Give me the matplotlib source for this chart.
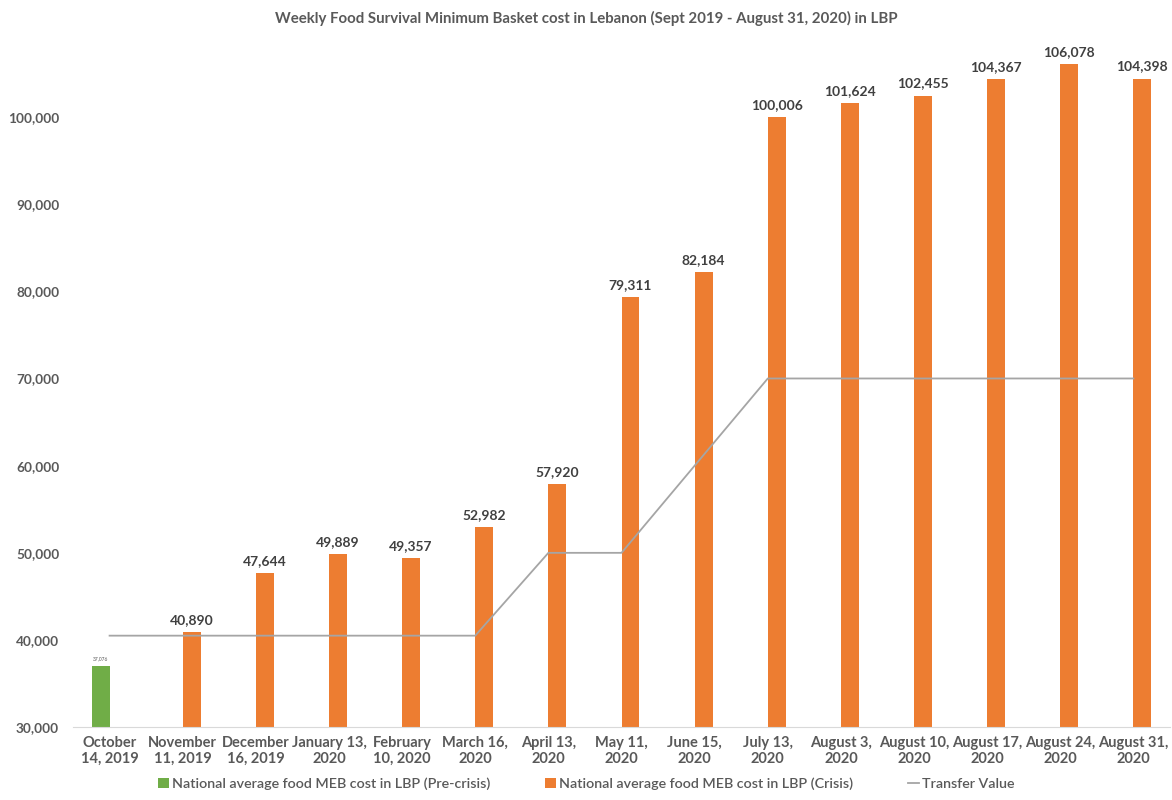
import numpy as np
import matplotlib.pyplot as plt

plt.rcParams['font.family'] = ['Lato', 'DejaVu Sans']

categories = ['October\n14, 2019', 'November\n11, 2019', 'December\n16, 2019',
              'January 13,\n2020', 'February\n10, 2020', 'March 16,\n2020',
              'April 13,\n2020', 'May 11,\n2020', 'June 15,\n2020', 'July 13,\n2020',
              'August 3,\n2020', 'August 10,\n2020', 'August 17,\n2020',
              'August 24,\n2020', 'August 31,\n2020']
pre_crisis = [37076] + [None] * 14
crisis = [None, 40890, 47644, 49889, 49357, 52982, 57920, 79311, 82184,
          100006, 101624, 102455, 104367, 106078, 104398]
transfer = [40500, 40500, 40500, 40500, 40500, 40500, 50000, 50000, 60000,
            70000, 70000, 70000, 70000, 70000, 70000]

green = '#70AD47'
orange = '#ED7D31'
grey_line = '#A5A5A5'
text_col = '#595959'

fig = plt.figure(figsize=(11.72, 8), dpi=100)
ax = fig.add_axes([0.0623, 0.091, 0.936, 0.85])

x = np.arange(len(categories))
w = 0.245

# pre-crisis bar (left of category centre)
px = [i for i, v in enumerate(pre_crisis) if v is not None]
pv = [pre_crisis[i] for i in px]
b1 = ax.bar(np.array(px) - w / 2, pv, width=w, color=green,
            label='National average food MEB cost in LBP (Pre-crisis)')
for xi, v in zip(px, pv):
    ax.text(xi - w / 2, v + 500, f'{v:,}', ha='center', va='bottom',
            fontsize=3.5, color=text_col)

# crisis bars (right of category centre)
cx = [i for i, v in enumerate(crisis) if v is not None]
cv = [crisis[i] for i in cx]
b2 = ax.bar(np.array(cx) + w / 2, cv, width=w, color=orange,
            label='National average food MEB cost in LBP (Crisis)')
for xi, v in zip(cx, cv):
    ax.text(xi + w / 2, v + 700, f'{v:,}', ha='center', va='bottom',
            fontsize=10, fontweight='bold', color='#404040')

l1, = ax.plot(x, transfer, color=grey_line, lw=1.3, label='Transfer Value')

ax.set_xlim(-0.5, len(categories) - 0.5)
ax.set_ylim(30000, 108000)
ax.set_yticks(np.arange(30000, 100001, 10000))
ax.set_yticklabels([f'{t:,}' for t in range(30000, 100001, 10000)],
                   fontweight='bold')
ax.set_xticks(x)
ax.set_xticklabels(categories, fontsize=10.5, fontweight='bold', color=text_col,
                   linespacing=1.25)
ax.tick_params(axis='y', labelsize=9.8, colors=text_col, length=0, pad=10)
ax.tick_params(axis='x', length=0, pad=6)
for s in ['top', 'right', 'left']:
    ax.spines[s].set_visible(False)
ax.spines['bottom'].set_color('#D9D9D9')

fig.text(0.5, 0.977, 'Weekly Food Survival Minimum Basket cost in Lebanon (Sept 2019 - August 31, 2020) in LBP',
         ha='center', va='center', fontsize=10.8, fontweight='bold', color=text_col)

leg = fig.legend(handles=[b1, b2, l1], loc='lower center', bbox_to_anchor=(0.5, -0.004),
                 ncol=3, frameon=False, fontsize=10.3, labelcolor=text_col,
                 handlelength=0.8, handletextpad=0.2, columnspacing=3.8)
for t in leg.get_texts():
    t.set_fontweight('semibold')

fig.savefig('out.png', dpi=100)
